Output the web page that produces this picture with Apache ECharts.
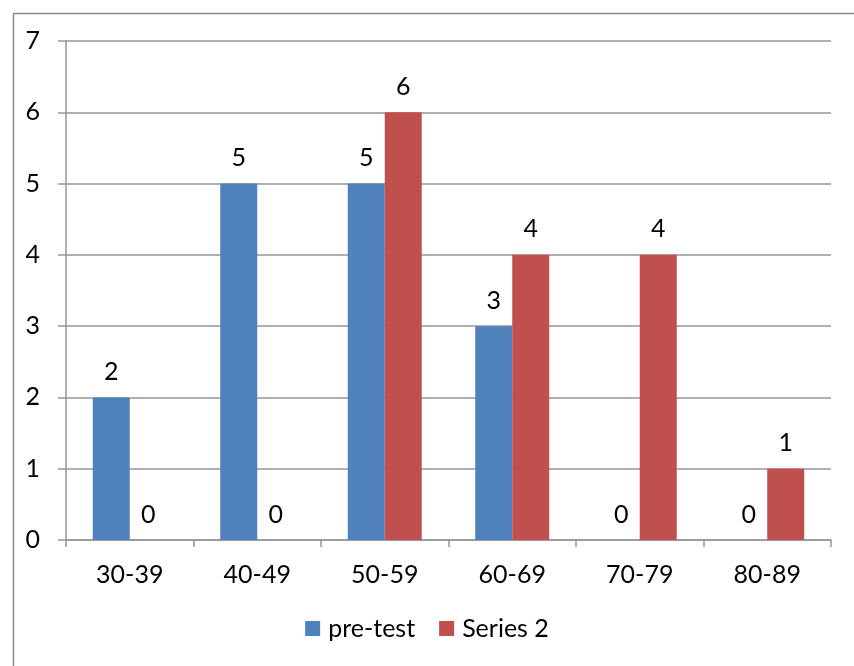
<!DOCTYPE html>
<html>
<head>
<meta charset="utf-8">
<script src="https://cdn.jsdelivr.net/npm/echarts@6/dist/echarts.min.js"></script>
<style>
  html, body { margin: 0; padding: 0; background: #fff; }
  #chart { width: 854px; height: 666px; }
</style>
</head>
<body>
<div id="chart"></div>
<script>
// Score bands and counts per band
const categories = ['30-39', '40-49', '50-59', '60-69', '70-79', '80-89'];
const preTest = [2, 5, 5, 3, 0, 0];
const series2 = [0, 0, 6, 4, 4, 1];
const yTicks = { min: 0, max: 7, interval: 1 };

const FONT = 'Lato, "Open Sans", sans-serif';
const FONT_SIZE = 25;
const AXIS_GRAY = '#969696';

const chart = echarts.init(document.getElementById('chart'), null, { renderer: 'canvas' });

const labelStyle = {
  show: true,
  position: 'top',
  distance: 13,
  color: '#000',
  fontSize: FONT_SIZE,
  fontFamily: FONT
};

chart.setOption({
  animation: false,
  backgroundColor: '#fff',
  textStyle: { fontFamily: FONT },
  graphic: [{
    type: 'rect',
    left: 11,
    top: 11,
    shape: { width: 900, height: 700 },
    style: { fill: 'none', stroke: '#8c8c8c', lineWidth: 1.5 },
    silent: true
  }],
  grid: { left: 66, right: 23, top: 41, bottom: 126, containLabel: false },
  legend: {
    bottom: 20,
    left: 'center',
    itemWidth: 15,
    itemHeight: 15,
    itemGap: 24,
    icon: 'rect',
    textStyle: { fontSize: FONT_SIZE, color: '#000', fontFamily: FONT, padding: [0, 0, 0, 3] },
    data: ['pre-test', 'Series 2']
  },
  xAxis: {
    type: 'category',
    data: categories,
    axisLine: { lineStyle: { color: AXIS_GRAY, width: 1.5 } },
    axisTick: { show: true, alignWithLabel: false, length: 7, lineStyle: { color: AXIS_GRAY, width: 1.5 } },
    axisLabel: { color: '#000', fontSize: FONT_SIZE, fontFamily: FONT, margin: 22 },
    splitLine: { show: false }
  },
  yAxis: {
    type: 'value',
    min: yTicks.min,
    max: yTicks.max,
    interval: yTicks.interval,
    axisLine: { show: true, lineStyle: { color: AXIS_GRAY, width: 1.5 } },
    axisTick: { show: true, length: 8, lineStyle: { color: AXIS_GRAY, width: 1.5 } },
    axisLabel: { color: '#000', fontSize: FONT_SIZE, fontFamily: FONT, margin: 26 },
    splitLine: { show: true, lineStyle: { color: AXIS_GRAY, width: 1.5 } }
  },
  series: [
    {
      name: 'pre-test',
      type: 'bar',
      data: preTest,
      barWidth: 37,
      barGap: '0%',
      itemStyle: { color: '#4F81BD' },
      label: labelStyle
    },
    {
      name: 'Series 2',
      type: 'bar',
      data: series2,
      barWidth: 37,
      barGap: '0%',
      itemStyle: { color: '#C0504D' },
      label: labelStyle
    }
  ]
});
</script>
</body>
</html>
